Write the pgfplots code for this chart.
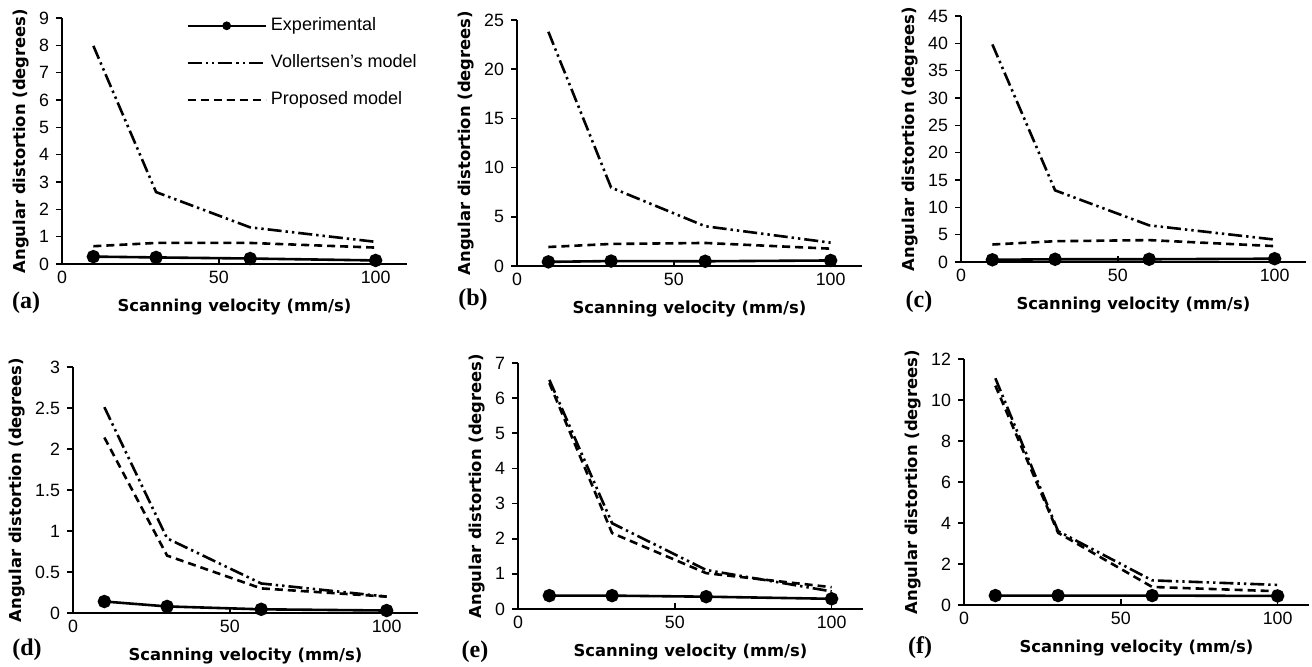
\documentclass[border=0pt]{standalone}
\usepackage{fontspec}
\setmainfont{Liberation Sans}
\newfontfamily\serifb{Liberation Serif}
\newfontfamily\labfont{DejaVu Sans}
\usepackage{pgfplots}
\pgfplotsset{compat=1.18}

\pgfplotsset{
  panel/.style={
    scale only axis, width=172.5pt, height=123pt,
    anchor=south west,
    xmin=0, xmax=110, ymin=0,
    axis lines=left, axis line style={-, line width=0.9pt},
    xtick={0,50,100},
    xtick align=inside, ytick align=outside,
    major tick length=3pt,
    tick style={black, line width=0.8pt},
    tick label style={font=\fontsize{8.9}{10}\selectfont},
    /pgf/number format/assume math mode=true,
    label style={font=\fontsize{8.2}{10}\selectfont\labfont\bfseries},
    xlabel={Scanning velocity (mm/s)},
    ylabel={Angular distortion (degrees)},
    xlabel style={yshift=-1pt},
    ylabel style={yshift=-2pt},
    clip=false,
  },
  exp/.style={black, line width=1.3pt, mark=*, mark size=2.7pt, mark options={solid}},
  voll/.style={black, line width=1.3pt, dash pattern=on 7pt off 2pt on 1.2pt off 2pt on 1.2pt off 2pt},
  prop/.style={black, line width=1.3pt, dash pattern=on 4pt off 2.5pt},
}

\begin{document}
\begin{tikzpicture}
\useasboundingbox (0,0) rectangle (656pt,333.5pt);

% (a)
\begin{axis}[panel, at={(31pt,201.5pt)}, ymax=9, ytick={0,1,...,9},
  legend style={draw=none, fill=none, at={(0.342,1.035)}, anchor=north west,
    font=\fontsize{9}{10.5}\selectfont, row sep=6.5pt, cells={anchor=west}},
  legend image code/.code={\draw[mark repeat=2, mark phase=2, mark size=1.5pt]
    plot coordinates {(0pt,0pt) (19.5pt,0pt) (39pt,0pt)};},
]
\addplot[exp] coordinates {(10,0.27)(30,0.24)(60,0.2)(100,0.13)};
\addplot[voll] coordinates {(10,7.98)(30,2.63)(60,1.34)(100,0.81)};
\addplot[prop] coordinates {(10,0.65)(30,0.77)(60,0.77)(100,0.6)};
\legend{Experimental, Vollertsen's model, Proposed model}
\end{axis}

% (b)
\begin{axis}[panel, at={(258.5pt,200.5pt)}, ymax=25, ytick={0,5,...,25}]
\addplot[exp] coordinates {(10,0.42)(30,0.5)(60,0.48)(100,0.56)};
\addplot[voll] coordinates {(10,23.8)(30,7.97)(60,4.04)(100,2.37)};
\addplot[prop] coordinates {(10,1.93)(30,2.24)(60,2.34)(100,1.76)};
\end{axis}

% (c)
\begin{axis}[panel, at={(480.5pt,202.5pt)}, ymax=45, ytick={0,5,...,45}]
\addplot[exp] coordinates {(10,0.4)(30,0.5)(60,0.5)(100,0.6)};
\addplot[voll] coordinates {(10,39.8)(30,13.1)(60,6.7)(100,4.1)};
\addplot[prop] coordinates {(10,3.2)(30,3.8)(60,4.0)(100,2.9)};
\end{axis}

% (d)
\begin{axis}[panel, at={(36.5pt,27pt)}, ymax=3, ytick={0,0.5,...,3}]
\addplot[exp] coordinates {(10,0.14)(30,0.08)(60,0.045)(100,0.03)};
\addplot[voll] coordinates {(10,2.51)(30,0.91)(60,0.36)(100,0.2)};
\addplot[prop] coordinates {(10,2.14)(30,0.7)(60,0.3)(100,0.2)};
\end{axis}

% (e)
\begin{axis}[panel, at={(259pt,29pt)}, ymax=7, ytick={0,1,...,7}]
\addplot[exp] coordinates {(10,0.38)(30,0.38)(60,0.35)(100,0.29)};
\addplot[voll] coordinates {(10,6.52)(30,2.44)(60,1.11)(100,0.5)};
\addplot[prop] coordinates {(10,6.43)(30,2.16)(60,1.02)(100,0.62)};
\end{axis}

% (f)
\begin{axis}[panel, at={(482pt,31pt)}, ymax=12, ytick={0,2,...,12}]
\addplot[exp] coordinates {(10,0.46)(30,0.46)(60,0.46)(100,0.44)};
\addplot[voll] coordinates {(10,11.06)(30,3.6)(60,1.2)(100,0.98)};
\addplot[prop] coordinates {(10,10.7)(30,3.52)(60,0.88)(100,0.67)};
\end{axis}

\begin{scope}[every node/.style={font=\fontsize{12}{13}\selectfont\serifb\bfseries}]
\node at (13pt,182pt) {(a)};
\node at (236.5pt,183.5pt) {(b)};
\node at (459.5pt,182.5pt) {(c)};
\node at (13.5pt,8.5pt) {(d)};
\node at (237.5pt,7.5pt) {(e)};
\node at (460pt,9.5pt) {(f)};
\end{scope}
\end{tikzpicture}
\end{document}
